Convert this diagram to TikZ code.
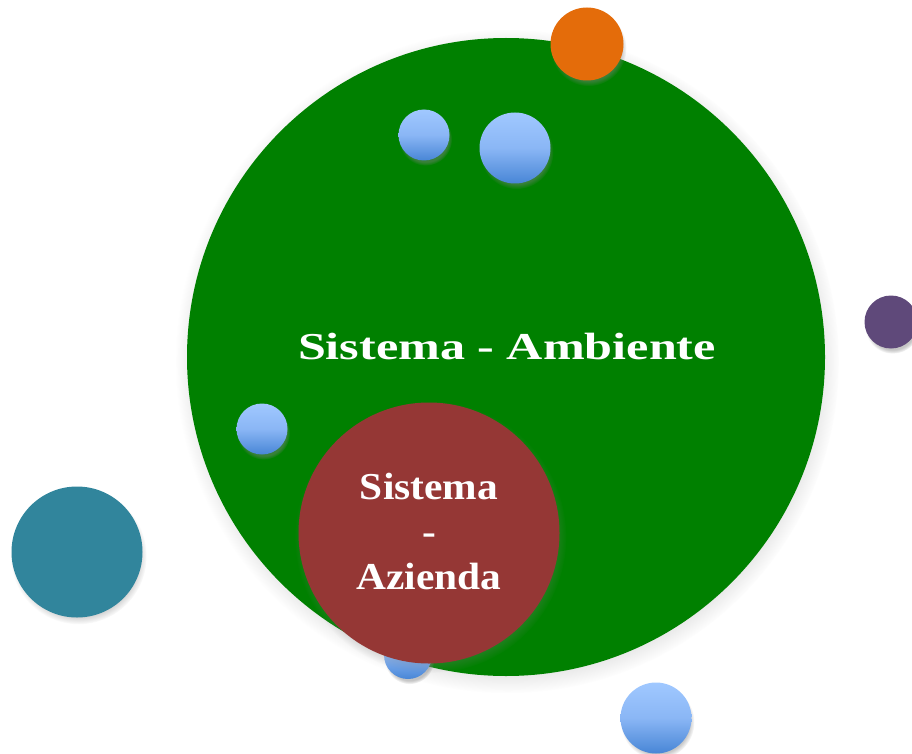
\documentclass[tikz,border=0pt]{standalone}
\usepackage{fontspec}
\setmainfont{Liberation Serif}
\newfontfamily\mainlblfont{Liberation Serif}[FakeStretch=1.32]
\newfontfamily\redlblfont{Liberation Serif}[FakeStretch=1.09]
\usetikzlibrary{shadows}
\definecolor{bgreen}{RGB}{0,128,0}
\definecolor{bred}{RGB}{149,55,53}
\definecolor{borange}{RGB}{228,108,10}
\definecolor{bpurple}{RGB}{95,73,122}
\definecolor{bteal}{RGB}{49,133,156}
\definecolor{blight}{RGB}{160,200,255}
\definecolor{bmid}{RGB}{138,182,245}
\definecolor{bdark}{RGB}{72,134,214}
\tikzset{
  bubble/.style={circle, inner sep=0pt, minimum size=#1,
    circular drop shadow={shadow xshift=1.5pt, shadow yshift=-4pt, shadow scale=1.04, opacity=0.45}},
  bluebub/.style={bubble=#1, top color=blight, bottom color=bdark, middle color=bmid},
  mainlbl/.style={text=white, anchor=base, inner sep=0pt, font=\mainlblfont\bfseries\fontsize{38}{45}\selectfont},
  redlbl/.style={text=white, anchor=base, inner sep=0pt, font=\redlblfont\bfseries\fontsize{38}{45}\selectfont}
}
\begin{document}
\begin{tikzpicture}[x=1pt,y=-1pt]
\useasboundingbox (0,0) rectangle (912,754);
\node[bubble=638pt, fill=bgreen] (amb) at (506,357) {};
\node[bluebub=51pt] (b1) at (424,135) {};
\node[bluebub=71pt] (b2) at (515,148) {};
\node[bluebub=51pt] (b3) at (262,429) {};
\node[bubble=73pt, fill=borange] (or) at (587,44) {};
\node[bluebub=48pt] (b4) at (408,655) {};
\node[bubble=261pt, fill=bred] (az) at (429,533) {};
\node[bluebub=71pt] (b5) at (656,718) {};
\node[bubble=53pt, fill=bpurple] (pu) at (891,322) {};
\node[bubble=131pt, fill=bteal] (te) at (77,552) {};
\node[mainlbl] (t1) at (507,359) {Sistema - Ambiente};
\node[redlbl] (t2a) at (429,499) {Sistema};
\node[redlbl] (t2b) at (429,544) {-};
\node[redlbl] (t2c) at (429,589) {Azienda};
\end{tikzpicture}
\end{document}
